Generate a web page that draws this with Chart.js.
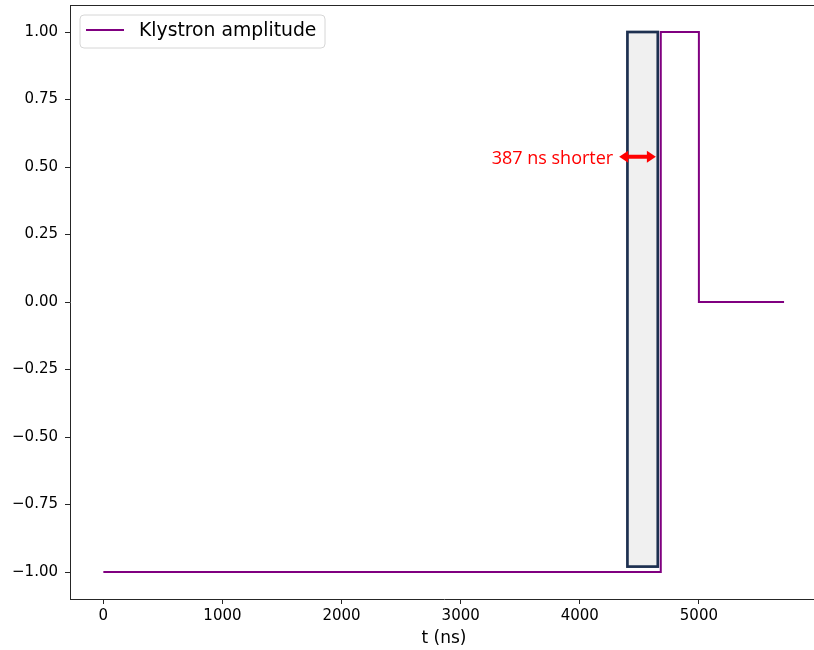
<!DOCTYPE html>
<html>
<head>
<meta charset="utf-8">
<script src="https://cdn.jsdelivr.net/npm/chart.js@4.4.1/dist/chart.umd.min.js"></script>
<style>
  html, body { margin: 0; padding: 0; background: #fff; overflow: hidden; }
  #wrap { width: 814px; height: 650px; overflow: hidden; position: relative; }
  canvas { position: absolute; left: 0; top: 0; }
</style>
</head>
<body>
<div id="wrap"><canvas id="c" width="830" height="650"></canvas></div>
<script>
// ---- data ----
const timeNs = [0, 4680, 4680, 5000, 5000, 5715];
const amplitude = [-1, -1, 1, 1, 0, 0];
const seriesLabel = 'Klystron amplitude';

const windowStartNs = 4400;
const windowEndNs = 4655;
const windowTop = 1.0;
const windowBottom = -0.98;

const arrowStartNs = 4331;
const arrowEndNs = 4639;
const arrowLevel = 0.538;
const annotationText = '387 ns shorter';

const xTicks = [0, 1000, 2000, 3000, 4000, 5000];
const yTicks = [-1.0, -0.75, -0.5, -0.25, 0.0, 0.25, 0.5, 0.75, 1.0];
const xTitle = 't (ns)';

const points = timeNs.map((t, i) => ({ x: t, y: amplitude[i] }));

const SPINE = '#262626';

const decorPlugin = {
  id: 'decor',
  beforeDatasetsDraw(chart) {
    const { ctx, scales: { x, y } } = chart;
    const x0 = x.getPixelForValue(windowStartNs), x1 = x.getPixelForValue(windowEndNs);
    const y0 = y.getPixelForValue(windowTop), y1 = y.getPixelForValue(windowBottom);
    ctx.save();
    ctx.fillStyle = '#f0f0f0';
    ctx.fillRect(x0, y0, x1 - x0, y1 - y0);
    ctx.strokeStyle = '#1d3050';
    ctx.lineWidth = 2.7;
    ctx.lineJoin = 'miter';
    ctx.strokeRect(x0, y0, x1 - x0, y1 - y0);
    ctx.restore();
  },
  afterDatasetsDraw(chart) {
    const { ctx, scales: { x, y }, chartArea } = chart;
    ctx.save();
    // top spine
    ctx.strokeStyle = SPINE;
    ctx.lineWidth = 1;
    ctx.beginPath();
    ctx.moveTo(chartArea.left, chartArea.top + 0.5);
    ctx.lineTo(chartArea.right, chartArea.top + 0.5);
    ctx.stroke();

    // double arrow
    const ax0 = x.getPixelForValue(arrowStartNs), ax1 = x.getPixelForValue(arrowEndNs);
    const ay = y.getPixelForValue(arrowLevel);
    const hl = 9, hw = 6;
    ctx.fillStyle = '#ff0000';
    ctx.strokeStyle = '#ff0000';
    ctx.lineWidth = 4;
    ctx.beginPath();
    ctx.moveTo(ax0 + hl - 1, ay);
    ctx.lineTo(ax1 - hl + 1, ay);
    ctx.stroke();
    ctx.beginPath();
    ctx.moveTo(ax0, ay);
    ctx.lineTo(ax0 + hl, ay - hw);
    ctx.lineTo(ax0 + hl, ay + hw);
    ctx.closePath();
    ctx.fill();
    ctx.beginPath();
    ctx.moveTo(ax1, ay);
    ctx.lineTo(ax1 - hl, ay - hw);
    ctx.lineTo(ax1 - hl, ay + hw);
    ctx.closePath();
    ctx.fill();

    // annotation text
    ctx.font = '18px "Open Sans"';
    ctx.textAlign = 'right';
    ctx.textBaseline = 'alphabetic';
    ctx.fillText(annotationText, ax0 - 6, ay + 7.6);

    // legend
    const ds = chart.data.datasets[0];
    const bx = chartArea.left + 10, by = chartArea.top + 10, bw = 245, bh = 33, r = 4;
    ctx.beginPath();
    ctx.moveTo(bx + r, by);
    ctx.lineTo(bx + bw - r, by);
    ctx.quadraticCurveTo(bx + bw, by, bx + bw, by + r);
    ctx.lineTo(bx + bw, by + bh - r);
    ctx.quadraticCurveTo(bx + bw, by + bh, bx + bw - r, by + bh);
    ctx.lineTo(bx + r, by + bh);
    ctx.quadraticCurveTo(bx, by + bh, bx, by + bh - r);
    ctx.lineTo(bx, by + r);
    ctx.quadraticCurveTo(bx, by, bx + r, by);
    ctx.closePath();
    ctx.fillStyle = 'rgba(255,255,255,0.8)';
    ctx.fill();
    ctx.strokeStyle = '#d6d6d6';
    ctx.lineWidth = 1;
    ctx.stroke();
    ctx.strokeStyle = ds.borderColor;
    ctx.lineWidth = 2;
    ctx.beginPath();
    ctx.moveTo(bx + 6, by + 15);
    ctx.lineTo(bx + 44, by + 15);
    ctx.stroke();
    ctx.fillStyle = '#000';
    ctx.font = '18.8px "DejaVu Sans"';
    ctx.textAlign = 'left';
    ctx.fillText(ds.label, bx + 59, by + 21);
    ctx.restore();
  }
};

new Chart(document.getElementById('c'), {
  type: 'line',
  data: {
    datasets: [{
      label: seriesLabel,
      data: points,
      borderColor: '#800080',
      borderWidth: 2,
      pointRadius: 0,
      tension: 0,
      fill: false
    }]
  },
  options: {
    responsive: false,
    animation: false,
    devicePixelRatio: 1,
    layout: { padding: { left: 0, top: 5, right: 12, bottom: 0 } },
    plugins: { legend: { display: false }, tooltip: { enabled: false } },
    scales: {
      x: {
        type: 'linear',
        min: -280,
        max: 6000,
        afterBuildTicks(scale) { scale.ticks = xTicks.map(v => ({ value: v })); },
        afterFit(scale) { scale.height = 51; scale.paddingLeft = 0; scale.paddingRight = 0; },
        ticks: {
          font: { family: 'DejaVu Sans', size: 15 },
          color: '#000',
          padding: 3,
          maxRotation: 0,
          autoSkip: false,
          callback: v => String(v)
        },
        grid: { display: true, drawOnChartArea: false, drawTicks: true, tickLength: 5, tickColor: SPINE, tickWidth: 1 },
        border: { display: true, color: SPINE, width: 1 },
        title: { display: true, text: xTitle, color: '#000', font: { family: 'DejaVu Sans', size: 17 }, padding: { top: 0, bottom: 1 } }
      },
      y: {
        type: 'linear',
        min: -1.1,
        max: 1.1,
        afterBuildTicks(scale) { scale.ticks = yTicks.map(v => ({ value: v })); },
        afterFit(scale) { scale.width = 70; scale.paddingTop = 0; scale.paddingBottom = 0; },
        ticks: {
          font: { family: 'DejaVu Sans', size: 15 },
          color: '#000',
          padding: 7,
          autoSkip: false,
          callback: v => v.toFixed(2).replace('-', '\u2212')
        },
        grid: { display: true, drawOnChartArea: false, drawTicks: true, tickLength: 5, tickColor: SPINE, tickWidth: 1 },
        border: { display: true, color: SPINE, width: 1 }
      }
    }
  },
  plugins: [decorPlugin]
});
</script>
</body>
</html>
